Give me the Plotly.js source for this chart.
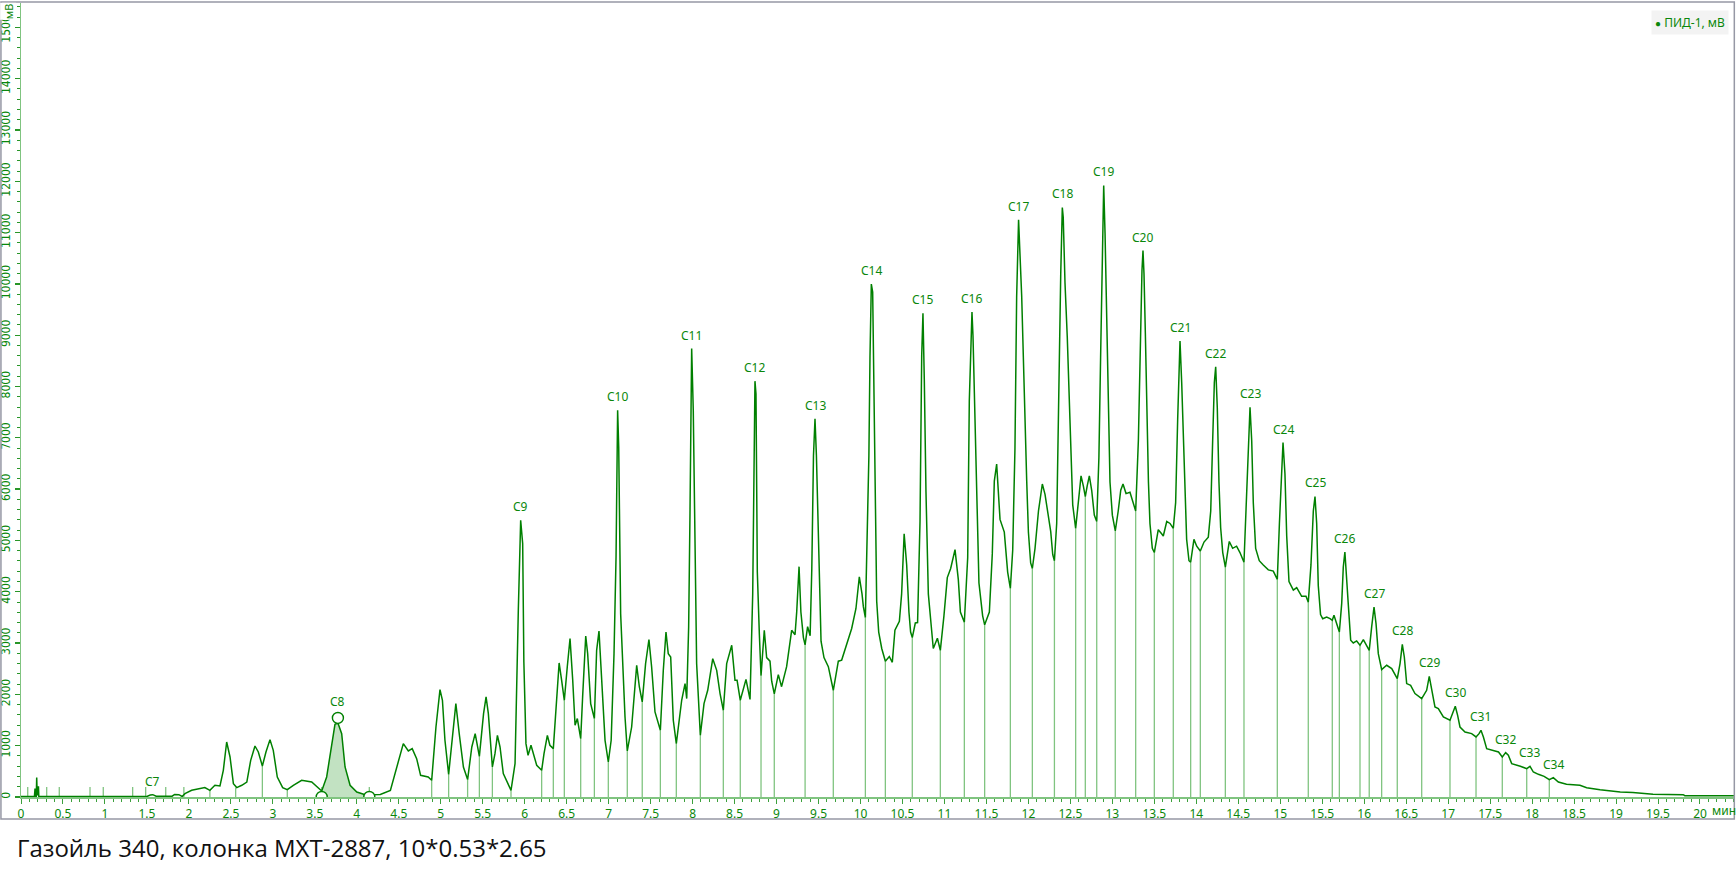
<!DOCTYPE html>
<html>
<head>
<meta charset="utf-8">
<script src="https://cdn.plot.ly/plotly-3.0.1.min.js"></script>
<style>
html,body{margin:0;padding:0;background:#fff;}
#chart{width:1736px;height:872px;}
</style>
</head>
<body>
<div id="chart"></div>
<script>
// Retention time, min
const time = [
0,0.16,0.167,0.172,0.182,0.187,0.193,0.200,0.208,0.212,1.50,1.54,1.57,1.61,1.80,1.83,1.88,1.92,1.953,2.033,
2.132,2.19,2.25,2.31,2.37,2.41,2.45,2.49,2.53,2.57,2.63,2.69,2.736,2.787,2.827,2.875,2.918,2.966,3.005,3.053,
3.117,3.172,3.244,3.343,3.463,3.542,3.582,3.641,3.70,3.74,3.775,3.82,3.86,3.92,4.00,4.10,4.14,4.28,4.40,4.475,
4.554,4.614,4.66,4.713,4.76,4.85,4.892,4.943,4.991,5.02,5.05,5.094,5.13,5.18,5.22,5.27,5.32,5.37,5.41,5.46,
5.51,5.54,5.567,5.615,5.646,5.675,5.706,5.745,5.837,5.885,5.924,5.952,5.976,5.99,6.015,6.04,6.075,6.143,6.202,6.23,
6.27,6.30,6.341,6.373,6.41,6.44,6.472,6.507,6.54,6.572,6.60,6.627,6.667,6.69,6.727,6.75,6.786,6.83,6.857,6.885,
6.917,6.957,6.996,7.03,7.064,7.088,7.107,7.12,7.143,7.167,7.195,7.222,7.274,7.334,7.366,7.40,7.44,7.48,7.512,7.552,
7.616,7.651,7.683,7.71,7.739,7.77,7.806,7.87,7.91,7.93,7.953,7.969,7.989,8.008,8.028,8.048,8.092,8.136,8.18,8.24,
8.287,8.327,8.366,8.406,8.466,8.505,8.53,8.568,8.636,8.684,8.716,8.73,8.743,8.755,8.771,8.795,8.815,8.854,8.882,8.922,
8.942,8.973,9.021,9.06,9.12,9.18,9.22,9.24,9.268,9.29,9.32,9.34,9.37,9.40,9.42,9.44,9.458,9.475,9.506,9.53,
9.565,9.617,9.676,9.736,9.776,9.836,9.895,9.946,9.986,10.018,10.034,10.058,10.081,10.10,10.113,10.129,10.145,10.153,10.173,10.193,
10.217,10.253,10.296,10.343,10.379,10.41,10.463,10.49,10.52,10.55,10.577,10.597,10.617,10.653,10.68,10.709,10.729,10.744,10.76,10.78,
10.808,10.836,10.867,10.916,10.951,10.994,11.034,11.074,11.126,11.165,11.19,11.237,11.277,11.296,11.313,11.328,11.34,11.356,11.384,11.411,
11.455,11.479,11.535,11.57,11.594,11.622,11.662,11.713,11.753,11.785,11.813,11.84,11.86,11.883,11.92,11.947,11.98,12.0,12.027,12.047,
12.079,12.12,12.166,12.198,12.237,12.266,12.29,12.31,12.337,12.356,12.385,12.404,12.415,12.436,12.463,12.495,12.528,12.563,12.595,12.627,
12.655,12.678,12.70,12.726,12.754,12.785,12.814,12.84,12.86,12.88,12.897,12.913,12.93,12.95,12.972,13.0,13.035,13.07,13.10,13.127,
13.163,13.21,13.25,13.278,13.31,13.337,13.353,13.365,13.377,13.393,13.41,13.43,13.448,13.476,13.50,13.547,13.587,13.607,13.648,13.687,
13.726,13.754,13.778,13.794,13.806,13.826,13.845,13.865,13.885,13.913,13.933,13.972,14.005,14.048,14.092,14.143,14.172,14.195,14.215,14.231,
14.25,14.27,14.29,14.315,14.346,14.393,14.433,14.48,14.52,14.568,14.60,14.625,14.64,14.66,14.679,14.707,14.75,14.798,14.858,14.917,
14.965,14.99,15.017,15.033,15.056,15.077,15.104,15.156,15.196,15.255,15.307,15.334,15.366,15.394,15.414,15.434,15.453,15.48,15.506,15.553,
15.593,15.62,15.64,15.672,15.704,15.732,15.751,15.77,15.79,15.81,15.839,15.87,15.91,15.95,15.99,16.03,16.06,16.089,16.117,16.141,
16.168,16.208,16.268,16.328,16.394,16.427,16.454,16.478,16.506,16.553,16.605,16.685,16.744,16.775,16.804,16.843,16.883,16.943,17.022,17.062,
17.085,17.113,17.141,17.201,17.28,17.332,17.368,17.391,17.42,17.459,17.54,17.60,17.645,17.685,17.717,17.757,17.86,17.936,17.975,18.015,
18.075,18.143,18.205,18.253,18.313,18.41,18.57,18.65,18.81,19.05,19.2,19.44,19.80,19.82,20.42
];
// ПИД-1 signal, mV
const signal = [
10,10,165,10,10,378,30,208,208,10,10,40,45,15,15,50,45,10,66,130,
163,183,130,228,215,520,1072,780,260,183,228,290,715,994,877,604,877,1118,910,390,
183,143,228,325,293,163,117,390,1040,1417,1442,1235,585,228,98,46,45,50,130,585,
1040,897,943,748,423,390,325,1364,2093,1885,1105,442,975,1820,1235,585,339,975,1235,793,
1625,1950,1625,585,845,1202,975,455,130,650,3640,5393,4939,2631,1040,813,1008,618,520,845,
1202,1008,943,1690,2612,2274,1885,2534,3087,2274,1397,1528,1137,1950,3138,2794,1820,1528,2859,3235,
2274,1105,682,1105,2794,4678,7537,6822,3573,2600,1560,897,1364,2566,2144,1852,2600,3067,2534,1657,
1300,2469,3216,2794,2729,1495,1040,1885,2210,1918,3314,5523,8740,7537,5328,2600,1202,1820,2079,2696,
2469,2015,1690,2600,2956,2274,2274,1885,2292,1902,3958,6155,8104,7857,4383,3179,2362,3249,2717,2647,
2257,2009,2384,2150,2540,3249,3163,3604,4489,3604,3107,2966,3319,3142,4453,6650,7373,6650,4596,3036,
2717,2540,2080,2647,2668,3001,3284,3674,4292,3958,3709,3497,4950,6650,8564,9996,9840,8636,5730,3816,
3214,2894,2647,2738,2625,3249,3426,3958,5128,4525,3604,3214,3107,3391,3400,5375,8599,9429,8139,5942,
3958,3391,2894,3093,2859,3531,4276,4453,4822,4241,3604,3405,4666,7714,8989,9451,8989,7857,5730,4171,
3531,3356,3604,4738,6155,6488,5410,5163,4383,4064,4808,6792,9733,11250,9768,7927,6155,5163,4561,4453,
4846,5574,6100,5898,5493,5171,4725,4605,5331,7351,10179,11489,11300,10018,8968,7351,5694,5234,5736,6259,
6060,5856,6060,6259,5978,5493,5370,6622,8561,10826,11918,10989,9373,7596,6140,5493,5185,5574,5978,6100,
5913,5938,5736,5573,6948,9211,10261,10649,10200,9049,7596,6140,5331,4846,4764,5210,5130,5086,5370,5331,
5234,5736,7351,8561,8888,8078,6948,5736,5021,4605,4576,5021,4888,4793,4968,5064,5574,6948,8078,8386,
7596,6140,5251,4764,4481,4980,4846,4888,4764,4576,5906,7110,7596,6948,5736,4846,4605,4523,4426,4403,
4241,5331,6463,6907,6301,5086,4200,4031,4079,3911,3911,3797,4523,5574,5857,5331,4120,3555,3473,3508,
3476,3444,3541,3379,3216,3769,4483,4775,4353,3769,3054,3002,3041,2957,3067,2957,2859,3314,3703,3379,
2794,2483,2567,2502,2307,2600,2976,2729,2210,2177,2015,1917,2080,2352,2080,1754,1723,1560,1495,1657,
1768,1592,1364,1267,1235,1170,1235,1300,1170,943,910,877,780,865,813,650,598,553,598,487,
442,403,339,378,293,247,228,182,143,98,86,53,46,25,25
];
// Integration boundaries (drop lines): time and height where they meet the trace
const dropTime = [0.08,0.306,0.456,0.822,0.98,1.33,1.485,1.724,1.94,2.25,2.557,2.875,3.172,3.582,4.149,
4.892,5.094,5.32,5.46,5.615,5.837,6.202,6.341,6.472,6.667,6.83,6.996,7.222,7.40,7.616,7.806,8.092,8.366,8.568,
8.815,8.973,9.34,9.676,10.058,10.296,10.617,10.951,11.237,11.479,11.785,12.047,12.31,12.563,12.678,12.814,13.035,
13.278,13.50,13.726,13.933,14.048,14.346,14.568,14.965,15.334,15.62,15.704,15.95,16.06,16.208,16.394,16.685,
17.022,17.332,17.645,17.936,18.205];
const dropHeight = [195,195,195,195,195,195,195,195,195,130,183,604,143,195,195,
325,442,339,793,585,130,520,943,1885,1137,1528,682,897,1852,1300,1040,1202,1690,1885,
2362,2009,2966,2080,3497,2647,3107,2859,3405,3356,4064,4453,4605,5234,5856,5370,5185,
5573,4764,5234,4576,4793,4481,4576,4241,3797,3444,3216,2957,2859,2483,2307,1917,
1495,1170,780,553,339];
// Identified n-alkanes: name, apex time, apex height
const peakNames = ["C7","C8","C9","C10","C11","C12","C13","C14","C15","C16","C17","C18","C19","C20",
"C21","C22","C23","C24","C25","C26","C27","C28","C29","C30","C31","C32","C33","C34"];
const peakTime = [1.57,3.775,5.952,7.107,7.989,8.743,9.458,10.129,10.744,11.328,11.883,12.404,12.897,13.365,
13.806,14.231,14.64,15.033,15.414,15.77,16.117,16.454,16.775,17.085,17.391,17.685,17.975,18.253];
const peakHeight = [45,1600,5393,7537,8740,8104,7373,9996,9429,9451,11250,11489,11918,10649,
8888,8386,7596,6907,5857,4775,3703,2976,2352,1768,1300,865,598,378];
// Selected peak (C8): start, apex marker, end
const selTime = [3.582,3.775,4.149];
const selValue = [0,1540,0];

const GREEN = 'rgb(0,128,0)';
const LIGHT = 'rgb(128,196,128)';
const TXT = 'rgb(10,135,10)';

const fillX = [], fillY = [];
time.forEach((t,i)=>{ if(t>=selTime[0] && t<=selTime[2]){ fillX.push(t); fillY.push(signal[i]); }});
fillX.push(selTime[2]); fillY.push(45);

const dx = [], dy = [];
dropTime.forEach((t,i)=>{ dx.push(t,t,null); dy.push(0,dropHeight[i],null); });

const traces = [
  {x: fillX, y: fillY, type:'scatter', mode:'lines', fill:'tozeroy', fillcolor:'rgb(194,226,194)',
   line:{width:0, color:'rgba(0,0,0,0)'}, hoverinfo:'skip'},
  {x: dx, y: dy, type:'scatter', mode:'lines', line:{color:LIGHT, width:1.3}, hoverinfo:'skip'},
  {x: time, y: signal, type:'scatter', mode:'lines', name:'ПИД-1, мВ', line:{color:GREEN, width:1.5}},
  {x: selTime, y: selValue, type:'scatter', mode:'markers', cliponaxis:true,
   marker:{symbol:'circle', size:11, color:'white', line:{color:GREEN, width:1.4}}, hoverinfo:'skip'}
];

const annotations = peakNames.map((n,i)=>({
  x: peakTime[i], y: peakHeight[i], xref:'x', yref:'y', text:n, showarrow:false,
  yanchor:'bottom', yshift:3, font:{family:'Noto Sans, Open Sans, sans-serif', size:12, color:TXT}
}));
annotations.push({xref:'paper', yref:'paper', x:0.9965, y:0.976, xanchor:'right', yanchor:'middle',
  text:'<span style="font-size:10px">●</span> ПИД-1, мВ', showarrow:false, bgcolor:'#f3f3f3', borderpad:3,
  font:{family:'Noto Sans, Open Sans, sans-serif', size:12, color:TXT}});
annotations.push({xref:'paper', yref:'paper', x:0.9935, y:-0.0176, xanchor:'center', yanchor:'middle',
  text:'мин', showarrow:false, font:{family:'Noto Sans, Open Sans, sans-serif', size:12, color:TXT}});
annotations.push({xref:'paper', yref:'paper', x:-0.0076, y:0.9895, xanchor:'center', yanchor:'middle',
  text:'мВ', textangle:-90, showarrow:false, bgcolor:'white', borderpad:0,
  font:{family:'Noto Sans, Open Sans, sans-serif', size:11, color:TXT}});
annotations.push({xref:'paper', yref:'paper', x:-0.0035, y:-0.0635, xanchor:'left', yanchor:'middle',
  text:'Газойль 340, колонка МХТ-2887, 10*0.53*2.65', showarrow:false,
  font:{family:'Open Sans, Noto Sans, sans-serif', size:24, color:'#111'}});

const layout = {
  width:1736, height:872,
  margin:{l:21, r:1, t:3, b:75},
  paper_bgcolor:'white', plot_bgcolor:'white',
  showlegend:false,
  xaxis:{range:[0,20.417], showgrid:false, zeroline:false, showline:true, linecolor:LIGHT, linewidth:2,
    ticks:'outside', tick0:0, dtick:0.5, ticklen:5, tickcolor:'rgb(60,160,60)', tickwidth:1,
    minor:{dtick:0.1, ticks:'outside', ticklen:3, tickcolor:'rgb(60,160,60)', tickwidth:1},
    tickfont:{family:'Noto Sans, Open Sans, sans-serif', size:12, color:TXT}},
  yaxis:{range:[0,15474], showgrid:false, zeroline:false, showline:true, linecolor:LIGHT, linewidth:1.5,
    ticks:'outside', tick0:0, dtick:1000, ticklen:5, tickcolor:'rgb(40,150,40)', tickwidth:1.3,
    minor:{dtick:200, ticks:'outside', ticklen:3, tickcolor:'rgb(40,150,40)', tickwidth:1},
    tickformat:'d', tickangle:-90,
    tickfont:{family:'Liberation Sans Narrow, DejaVu Sans Condensed, Roboto, sans-serif', size:12, color:TXT}},
  annotations: annotations,
  shapes:[{type:'rect', xref:'paper', yref:'paper', x0:-0.0117, x1:0.9996, y0:-0.0277, y1:1.0013,
    line:{color:'rgb(150,152,165)', width:1.5}, fillcolor:'rgba(0,0,0,0)'}]
};

Plotly.newPlot('chart', traces, layout, {staticPlot:true, displayModeBar:false});
</script>
</body>
</html>
